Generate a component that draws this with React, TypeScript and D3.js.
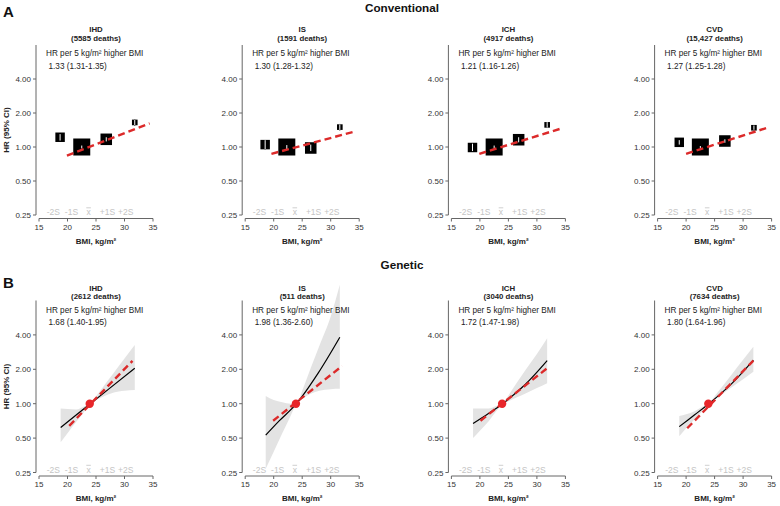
import * as d3 from "d3";

// outcomes and text
const outcomes = ["IHD", "IS", "ICH", "CVD"];
const convDeaths = ["5585", "1591", "4917", "15,427"];
const convEst = ["1.33 (1.31-1.35)", "1.30 (1.28-1.32)", "1.21 (1.16-1.26)", "1.27 (1.25-1.28)"];
const genDeaths = ["2612", "511", "3040", "7634"];
const genEst = ["1.68 (1.40-1.95)", "1.98 (1.36-2.60)", "1.72 (1.47-1.98)", "1.80 (1.64-1.96)"];

const yTicks = [0.25, 0.5, 1, 2, 4];
const xTicks = [15, 20, 25, 30, 35];
const sdLabels = ["-2S", "-1S", "x", "+1S", "+2S"];
const sdBmi = [17.5, 20.7, 23.7, 27.0, 30.2];

// conventional: BMI group means, HR, CI and relative weight
const groupBmi = [
  [18.7, 22.5, 26.8, 31.8],
  [18.5, 22.3, 26.5, 31.6],
  [18.7, 22.5, 26.8, 31.8],
  [18.8, 22.5, 26.8, 31.9],
];
const groupHr = [
  [1.22, 1.0, 1.17, 1.65],
  [1.05, 1.0, 0.98, 1.5],
  [0.99, 1.0, 1.16, 1.57],
  [1.1, 1.0, 1.13, 1.48],
];
const groupLo = [
  [1.14, 0.97, 1.12, 1.54],
  [0.95, 0.96, 0.92, 1.4],
  [0.92, 0.97, 1.1, 1.48],
  [1.05, 0.98, 1.09, 1.42],
];
const groupHi = [
  [1.3, 1.03, 1.22, 1.76],
  [1.15, 1.04, 1.05, 1.6],
  [1.07, 1.03, 1.22, 1.66],
  [1.15, 1.02, 1.17, 1.55],
];
const groupWeight = [0.31, 1, 0.46, 0.11];

// conventional fitted lines: [start, end]
const convLineBmi = [[19.9, 34.4], [19.6, 34.2], [19.9, 34.3], [20.0, 34.4]];
const convLineHr = [[0.84, 1.62], [0.87, 1.37], [0.87, 1.46], [0.87, 1.49]];

// genetic
const genMean = 23.9;
const genLineBmi = [[20.3, 31.4], [19.9, 32.0], [20.1, 32.1], [20.2, 31.8]];
const genLineHr = [[0.64, 2.37], [0.71, 2.14], [0.71, 2.1], [0.61, 2.38]];

const curveBmi = [
  [18.8, 24, 31.8],
  [18.6, 21, 24, 27.8, 31.6],
  [18.8, 21.5, 24, 28, 31.8],
  [18.8, 21.5, 24, 28, 31.8],
];
const curveHr = [
  [0.62, 1.0, 2.04],
  [0.53, 0.71, 1.0, 1.85, 3.81],
  [0.67, 0.82, 1.0, 1.48, 2.38],
  [0.63, 0.8, 1.0, 1.5, 2.41],
];

const bandBmi = [
  [18.8, 20, 21.5, 23, 24, 25, 26.5, 28, 30, 31.8],
  [18.6, 20, 21.5, 23, 24, 25, 26.5, 28, 30, 31.6],
  [18.8, 20, 21.5, 23, 24, 25, 26.5, 28, 30, 31.8],
  [18.8, 20, 21.5, 23, 24, 25, 26.5, 28, 30, 31.8],
];
const bandLo = [
  [0.46, 0.55, 0.69, 0.86, 1.0, 1.07, 1.17, 1.25, 1.3, 1.32],
  [0.27, 0.38, 0.55, 0.79, 1.0, 1.1, 1.22, 1.3, 1.34, 1.35],
  [0.5, 0.58, 0.7, 0.875, 1.0, 1.05, 1.14, 1.23, 1.37, 1.51],
  [0.52, 0.61, 0.73, 0.88, 1.0, 1.09, 1.23, 1.39, 1.64, 1.9],
];
const bandHi = [
  [0.91, 0.9, 0.89, 0.95, 1.0, 1.16, 1.46, 1.83, 2.48, 3.26],
  [1.17, 1.08, 1.03, 1.0, 1.0, 1.3, 2.05, 3.2, 5.8, 11],
  [0.91, 0.91, 0.91, 0.96, 1.0, 1.18, 1.53, 1.97, 2.72, 3.73],
  [0.78, 0.81, 0.86, 0.95, 1.0, 1.16, 1.44, 1.8, 2.42, 3.15],
];

const W = 780;
const H = 506;
const FONT = "'Liberation Sans', Arial, sans-serif";
const RED = "#dc2a2a";
const AXIS = "#666";
const SD_GREY = "#c4c4c4";

const rows = [
  { yTop: 45, yBot: 215, t1: 32, t2: 41, hr1: 56, hr2: 69 },
  { yTop: 300.5, yBot: 472.5, t1: 290.5, t2: 299, hr1: 313, hr2: 325 },
];

function Axes({ x, y, first }: { x: d3.ScaleLinear<number, number>; y: d3.ScaleLogarithmic<number, number>; first: boolean }) {
  const ax = x(15) - 3;
  const [yb, yt] = y.range();
  const xa = yb + 3.5;
  return (
    <g fontFamily={FONT}>
      <line x1={ax} x2={ax} y1={yb} y2={yt} stroke={AXIS} strokeWidth={1} />
      {yTicks.map((t) => (
        <g key={t}>
          <line x1={ax - 3} x2={ax} y1={y(t)} y2={y(t)} stroke={AXIS} />
          <text x={ax - 5} y={y(t) + 3} fontSize={8} textAnchor="end" fill="#333">
            {t.toFixed(2)}
          </text>
        </g>
      ))}
      <line x1={x(15)} x2={x(35)} y1={xa} y2={xa} stroke={AXIS} />
      {xTicks.map((t) => (
        <g key={t}>
          <line x1={x(t)} x2={x(t)} y1={xa} y2={xa + 3} stroke={AXIS} />
          <text x={x(t)} y={xa + 11} fontSize={8} textAnchor="middle" fill="#333">
            {t}
          </text>
        </g>
      ))}
      <text x={x(25)} y={xa + 25} fontSize={8} fontWeight="bold" textAnchor="middle" fill="#222">
        BMI, kg/m²
      </text>
      {sdLabels.map((s, i) => (
        <g key={s}>
          <text x={x(sdBmi[i])} y={yb} fontSize={8.5} textAnchor="middle" fill={SD_GREY}>
            {s}
          </text>
          {s === "x" && (
            <line x1={x(sdBmi[i]) - 2.3} x2={x(sdBmi[i]) + 2.3} y1={yb - 7.2} y2={yb - 7.2} stroke={SD_GREY} strokeWidth={0.8} />
          )}
        </g>
      ))}
      {first && (
        <text
          transform={`translate(9,${(yb + yt) / 2}) rotate(-90)`}
          fontSize={8}
          fontWeight="bold"
          textAnchor="middle"
          fill="#222"
        >
          HR (95% CI)
        </text>
      )}
    </g>
  );
}

function Header({ x, row, name, deaths, est }: { x: d3.ScaleLinear<number, number>; row: typeof rows[0]; name: string; deaths: string; est: string }) {
  const L = x(15);
  return (
    <g fontFamily={FONT} fill="#222">
      <text x={x(25)} y={row.t1} fontSize={7.8} fontWeight="bold" textAnchor="middle">
        {name}
      </text>
      <text x={x(25)} y={row.t2} fontSize={7.8} fontWeight="bold" textAnchor="middle">
        ({deaths} deaths)
      </text>
      <text x={L + 7} y={row.hr1} fontSize={8.2}>
        HR per 5 kg/m² higher BMI
      </text>
      <text x={L + 9.5} y={row.hr2} fontSize={8.2}>
        {est}
      </text>
    </g>
  );
}

export default function App() {
  const lefts = d3.range(4).map((i) => 39 + i * 206.2);
  const size = d3.scaleSqrt().domain([0, 1]).range([0, 17]);

  return (
    <svg width={W} height={H} style={{ position: "absolute", left: 0, top: 0 }}>
      <rect width={W} height={H} fill="#fff" />
      <g fontFamily={FONT} fontWeight="bold" fill="#111">
        <text x={3} y={17} fontSize={15}>A</text>
        <text x={402} y={12} fontSize={11.7} textAnchor="middle">Conventional</text>
        <text x={3} y={288} fontSize={15}>B</text>
        <text x={402} y={269} fontSize={11.7} textAnchor="middle">Genetic</text>
      </g>

      {outcomes.map((name, p) => {
        const x = d3.scaleLinear().domain([15, 35]).range([lefts[p], lefts[p] + 114]);
        const y = d3.scaleLog().base(2).domain([0.25, 8]).range([rows[0].yBot, rows[0].yTop]);
        const line = d3.line<number>((_, i) => x(convLineBmi[p][i]), (d) => y(d));
        return (
          <g key={"c" + name}>
            <Axes x={x} y={y} first={p === 0} />
            <Header x={x} row={rows[0]} name={name} deaths={convDeaths[p]} est={convEst[p]} />
            {groupBmi[p].map((b, i) => {
              const s = size(groupWeight[i]);
              const cy = y(groupHr[p][i]);
              const top = cy - s / 2;
              const bot = cy + s / 2;
              const lo = y(groupLo[p][i]);
              const hi = y(groupHi[p][i]);
              return (
                <g key={i}>
                  <line x1={x(b)} x2={x(b)} y1={lo} y2={hi} stroke="#000" strokeWidth={1} />
                  <rect x={x(b) - s / 2} y={top} width={s} height={s} fill="#000" />
                  <line
                    x1={x(b)}
                    x2={x(b)}
                    y1={Math.min(lo, bot)}
                    y2={Math.max(hi, top)}
                    stroke="#fff"
                    strokeWidth={1}
                  />
                </g>
              );
            })}
            <path d={line(convLineHr[p]) || undefined} fill="none" stroke={RED} strokeWidth={2.4} strokeDasharray="7 4" />
          </g>
        );
      })}

      {outcomes.map((name, p) => {
        const x = d3.scaleLinear().domain([15, 35]).range([lefts[p], lefts[p] + 114]);
        const y = d3.scaleLog().base(2).domain([0.25, 8]).range([rows[1].yBot, rows[1].yTop]);
        const area = d3
          .area<number>()
          .x((_, i) => x(bandBmi[p][i]))
          .y0((_, i) => y(bandLo[p][i]))
          .y1((d) => y(d))
          .curve(d3.curveMonotoneX);
        const curve = d3
          .line<number>()
          .x((_, i) => x(curveBmi[p][i]))
          .y((d) => y(d))
          .curve(d3.curveCatmullRom);
        const fit = d3.line<number>((_, i) => x(genLineBmi[p][i]), (d) => y(d));
        return (
          <g key={"g" + name}>
            <path d={area(bandHi[p]) || undefined} fill="#e3e3e3" />
            <Axes x={x} y={y} first={p === 0} />
            <Header x={x} row={rows[1]} name={name} deaths={genDeaths[p]} est={genEst[p]} />
            <path d={curve(curveHr[p]) || undefined} fill="none" stroke="#000" strokeWidth={1.2} />
            <path d={fit(genLineHr[p]) || undefined} fill="none" stroke={RED} strokeWidth={2.4} strokeDasharray="7 4" />
            <circle cx={x(genMean)} cy={y(1)} r={4.2} fill="#e8262a" />
          </g>
        );
      })}
    </svg>
  );
}
